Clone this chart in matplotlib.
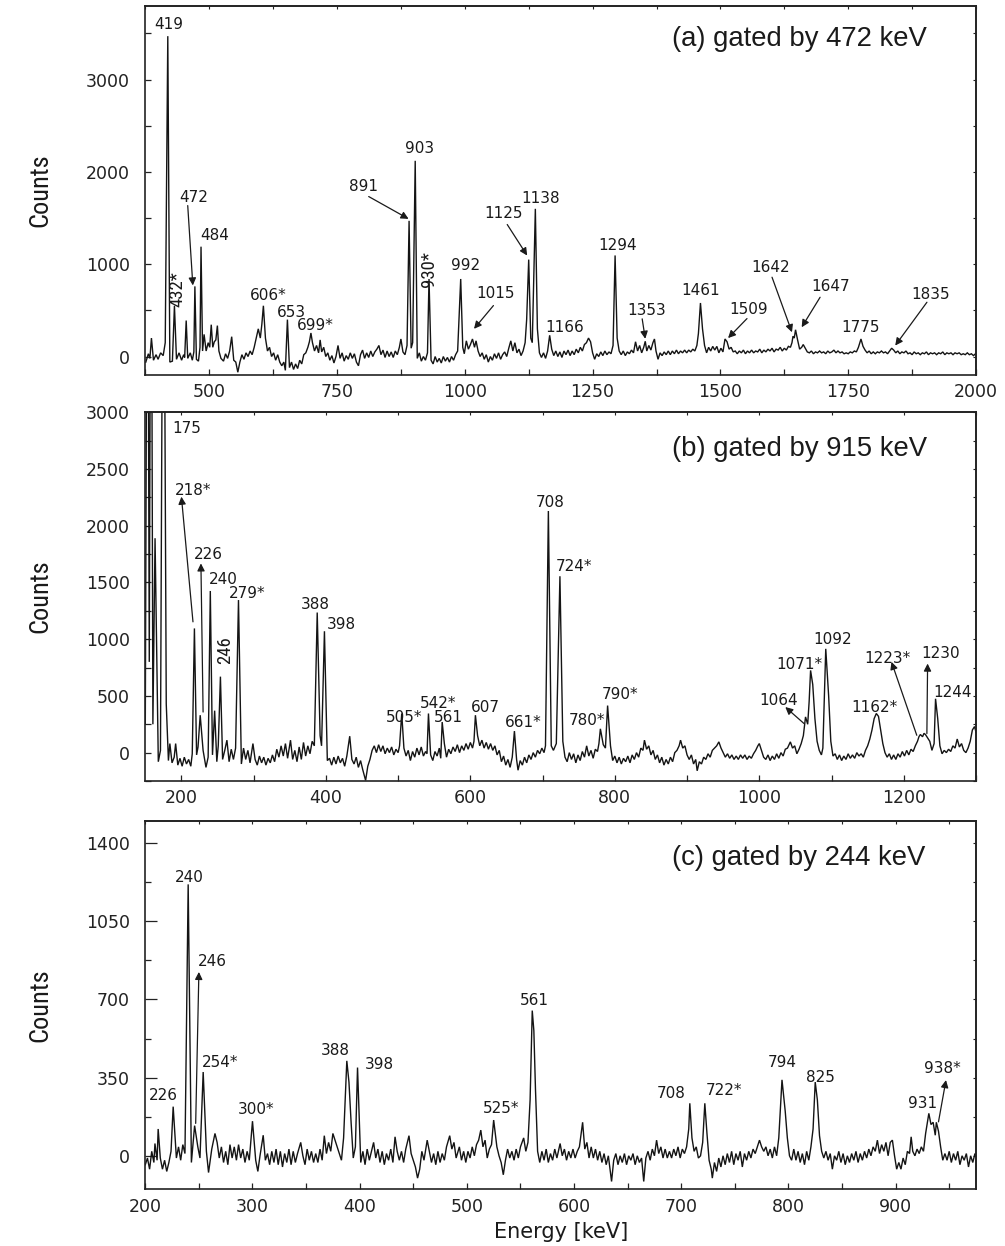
import numpy as np
import matplotlib
matplotlib.use("Agg")
import matplotlib.pyplot as plt
from matplotlib.ticker import MultipleLocator, NullFormatter

# ------------------------------------------------------------------
# Spectrum (a): coincidence spectrum gated by 472 keV
# ------------------------------------------------------------------
a_peak_energy = [387, 419, 432, 455, 472, 484, 504, 516, 544, 606, 653, 699, 717, 752,
                 875, 891, 903, 930, 992, 1015, 1125, 1138, 1166, 1242, 1294, 1353,
                 1461, 1509, 1642, 1647, 1662, 1775, 1835]
a_peak_counts = [200, 3470, 550, 390, 760, 1190, 345, 335, 215, 550, 400, 255, 180, 120,
                 190, 1470, 2120, 840, 840, 190, 1050, 1600, 230, 200, 1095, 165,
                 580, 190, 220, 290, 130, 190, 90]
a_background = [
    (376, -60), (381, 30), (384, -20), (391, -40), (396, 20), (400, -30), (405, 40), (410, 10),
    (414, 150), (423, -60), (428, -50), (436, -30), (441, 40), (446, -40), (450, 20), (452, -10),
    (458, -20), (463, 40), (467, -40), (470, 50), (475, -30), (479, -50), (482, 100), (487, 60),
    (490, 240), (494, 60), (498, 150), (501, 100), (507, 100), (510, 160), (513, 180), (519, 60),
    (523, -20), (528, -50), (532, 30), (536, -20), (540, 60), (548, -40), (552, -60), (556, -170),
    (560, -60), (564, 20), (568, -30), (572, 40), (576, 0), (580, 60), (584, 20), (588, 100),
    (592, 200), (596, 300), (600, 200), (603, 350), (610, 200), (614, 60), (618, 100), (622, 0),
    (626, 40), (630, -40), (634, 20), (638, -60), (642, -100), (646, -60), (649, -150), (657, -120),
    (661, -60), (665, -140), (669, -80), (673, -130), (677, -40), (681, -80), (685, 20), (689, 40),
    (693, 100), (696, 160), (702, 150), (706, 60), (710, 120), (714, 40), (720, 50), (724, 100),
    (728, 0), (732, 40), (736, -40), (740, 10), (744, -70), (748, 0), (756, -20), (760, 40),
    (764, -50), (768, 10), (772, -30), (776, 40), (780, -20), (784, 30), (788, -60), (792, -100),
    (796, 20), (800, 70), (804, -20), (808, 40), (812, -10), (816, 60), (820, 0), (824, 50),
    (828, 80), (832, 120), (836, 20), (840, 70), (844, -10), (848, 60), (852, 0), (856, 50),
    (860, -10), (864, 60), (868, 20), (872, 100), (879, 50), (883, 20), (887, 120), (895, 90),
    (898, 150), (907, -20), (911, 40), (915, -50), (919, 0), (923, -40), (927, 40), (934, -40),
    (938, -80), (942, 0), (946, -60), (950, -20), (954, -70), (958, 0), (962, -50), (966, -10),
    (970, -60), (974, 0), (978, -40), (982, 20), (986, 60), (996, 100), (999, 30), (1003, 170),
    (1007, 80), (1011, 130), (1019, 100), (1022, 170), (1026, 60), (1030, 0), (1034, 40), (1038, -30),
    (1042, 20), (1046, -60), (1050, 0), (1054, -40), (1058, 30), (1062, -20), (1066, 40), (1070, -30),
    (1074, 20), (1078, 50), (1082, 0), (1086, 90), (1090, 170), (1094, 60), (1098, 150), (1102, 40),
    (1106, 80), (1110, 10), (1114, 60), (1118, 150), (1121, 400), (1129, 200), (1132, 150), (1142, 300),
    (1146, 40), (1150, -10), (1154, 40), (1158, -20), (1162, 60), (1170, 80), (1174, 10), (1178, 60),
    (1182, 0), (1186, 50), (1190, -10), (1194, 60), (1198, 20), (1202, 70), (1206, 10), (1210, 60),
    (1214, 20), (1218, 80), (1222, 40), (1226, 100), (1230, 60), (1234, 130), (1238, 150), (1246, 160),
    (1250, 40), (1254, -30), (1258, 30), (1262, 0), (1266, 50), (1270, 10), (1274, 60), (1278, 20),
    (1282, 50), (1286, 30), (1290, 120), (1298, 200), (1302, 60), (1306, 20), (1310, 60), (1314, 10),
    (1318, 50), (1322, 30), (1326, 70), (1330, 40), (1334, 160), (1338, 60), (1342, 120), (1346, 40),
    (1350, 100), (1356, 60), (1360, 120), (1364, 70), (1368, 150), (1371, 190), (1374, 60), (1378, -30),
    (1382, 40), (1386, 10), (1390, 50), (1394, 20), (1398, 60), (1402, 20), (1406, 60), (1410, 30),
    (1414, 70), (1418, 30), (1422, 60), (1426, 40), (1430, 70), (1434, 40), (1438, 70), (1442, 50),
    (1446, 80), (1450, 60), (1454, 120), (1457, 250), (1465, 300), (1469, 120), (1473, 40), (1477, 100),
    (1481, 60), (1485, 110), (1489, 70), (1493, 110), (1497, 40), (1501, 90), (1505, 50), (1513, 160),
    (1517, 80), (1521, 100), (1525, 50), (1529, 60), (1533, 30), (1537, 60), (1541, 40), (1545, 70),
    (1549, 30), (1553, 60), (1557, 40), (1561, 70), (1565, 40), (1569, 60), (1573, 50), (1577, 80),
    (1581, 40), (1585, 70), (1589, 50), (1593, 80), (1597, 60), (1601, 90), (1605, 50), (1609, 80),
    (1613, 70), (1617, 100), (1621, 60), (1625, 90), (1629, 70), (1633, 110), (1637, 100), (1640, 150),
    (1644.5, 200), (1651, 180), (1655, 80), (1659, 100), (1666, 90), (1670, 50), (1674, 40), (1678, 60),
    (1682, 30), (1686, 50), (1690, 40), (1694, 60), (1698, 40), (1702, 50), (1706, 30), (1710, 60),
    (1714, 40), (1718, 50), (1722, 70), (1726, 40), (1730, 60), (1734, 40), (1738, 50), (1742, 30),
    (1746, 40), (1750, 30), (1754, 50), (1758, 40), (1762, 60), (1766, 50), (1770, 100), (1779, 110),
    (1783, 70), (1787, 40), (1791, 60), (1795, 30), (1799, 50), (1803, 30), (1807, 50), (1811, 40),
    (1815, 60), (1819, 40), (1823, 50), (1827, 30), (1831, 60), (1839, 70), (1843, 40), (1847, 60),
    (1851, 30), (1855, 50), (1859, 40), (1863, 60), (1867, 30), (1871, 40), (1875, 20), (1879, 50),
    (1883, 30), (1887, 40), (1891, 20), (1895, 40), (1899, 30), (1903, 50), (1907, 20), (1911, 40),
    (1915, 30), (1919, 40), (1923, 20), (1927, 40), (1931, 30), (1935, 50), (1939, 20), (1943, 40),
    (1947, 30), (1951, 40), (1955, 20), (1959, 40), (1963, 30), (1967, 40), (1971, 20), (1975, 30),
    (1979, 20), (1983, 40), (1987, 20), (1991, 30), (1995, 10), (1999, 30),
]
a_labels = ['419', '432*', '472', '484', '606*', '653', '699*', '891', '903', '930*', '992',
            '1015', '1125', '1138', '1166', '1294', '1353', '1461', '1509', '1642', '1647',
            '1775', '1835']

# ------------------------------------------------------------------
# Spectrum (b): gated by 915 keV
# ------------------------------------------------------------------
b_peak_energy = [153, 158, 163.5, 175, 179, 218, 226, 240, 246, 254, 279, 388, 398, 433,
                 505, 542, 561, 607, 661, 708, 724, 780, 790, 1064, 1071, 1092, 1162,
                 1223, 1230, 1244]
b_peak_counts = [6000, 6000, 1890, 6000, 430, 1095, 330, 1425, 370, 670, 1345, 1235, 1070, 145,
                 345, 345, 270, 330, 190, 2130, 1555, 210, 415, 315, 725, 915, 345,
                 160, 160, 475]
b_background = [
    (150, 250), (155.5, 800), (160.5, 250), (168, -80), (171, 20), (182, -70), (184, 80), (187, -90),
    (190, -40), (192, 80), (195, -110), (198, -50), (201, -120), (204, -40), (207, -100), (210, -60),
    (213, -120), (215, -10), (221, -20), (223, 50), (230, 20), (234, -130), (237, -40), (243, -20),
    (249, -80), (251, 60), (257, -60), (260, 20), (263, 110), (266, -80), (269, 30), (272, -60),
    (275, 40), (283, -100), (286, 40), (289, -60), (292, 20), (295, -90), (299, 80), (302, -60),
    (305, -110), (308, -30), (311, -90), (314, -40), (317, -110), (320, -50), (323, -90), (326, -20),
    (329, -80), (332, 30), (335, -40), (338, 60), (341, -30), (344, 80), (347, -50), (351, 110),
    (354, -60), (357, 20), (360, -80), (363, 50), (366, -60), (369, 90), (372, -30), (375, 60),
    (378, -10), (381, 100), (384, 60), (392, 150), (394, 60), (402, -70), (405, -50), (408, -110),
    (411, -40), (414, -100), (417, -30), (420, -90), (423, -50), (426, -120), (429, -30), (436, -60),
    (439, -100), (442, -40), (445, -130), (448, -70), (451, -150), (455, -245), (458, -120), (461, -60),
    (464, 20), (467, 60), (470, 0), (473, 70), (476, 10), (479, 60), (482, -10), (485, 40),
    (488, 0), (491, 50), (494, -20), (497, 30), (500, 0), (502, 60), (508, 40), (511, -30),
    (514, 20), (517, -70), (520, 10), (523, -40), (526, 40), (529, -20), (532, 50), (535, -30),
    (538, 10), (540, -10), (545, -20), (548, -70), (551, 10), (554, -30), (557, 40), (559, -50),
    (564, 80), (567, -40), (570, 30), (573, -10), (576, 50), (579, 10), (582, 70), (585, 0),
    (588, 60), (591, 20), (594, 80), (597, 30), (600, 90), (603, 40), (605, 100), (610, 150),
    (613, 60), (616, 110), (619, 40), (622, 90), (625, 30), (628, 80), (631, 20), (634, 60),
    (637, -20), (640, 20), (643, -80), (646, -30), (649, -110), (652, -60), (655, -130), (658, -40),
    (664, -60), (666, -155), (669, -70), (672, -110), (675, -40), (678, -90), (681, -20), (684, -60),
    (687, 0), (690, -40), (693, 20), (696, -10), (699, 40), (702, 0), (704, 60), (712, 60),
    (715, 20), (719, 80), (728, 100), (731, -40), (734, -80), (737, 0), (740, -60), (743, -10),
    (746, -90), (749, -20), (752, -70), (755, 10), (758, -40), (761, 60), (764, -30), (767, 20),
    (770, -50), (773, 30), (776, 10), (778, 80), (784, 70), (787, 40), (794, 60), (797, -70),
    (800, -30), (803, -90), (806, -40), (809, -100), (812, -50), (815, -80), (818, -30), (821, -90),
    (824, -20), (827, -60), (830, 0), (833, -40), (836, 40), (839, 20), (841, 110), (844, 30),
    (847, 60), (850, -20), (853, 20), (856, -60), (859, -20), (862, -90), (865, -40), (868, -110),
    (871, -60), (874, -100), (877, -40), (880, -80), (883, 0), (886, 20), (889, 60), (891, 110),
    (894, 40), (897, 60), (900, -20), (903, -60), (906, -20), (909, -100), (912, -60), (914, -160),
    (917, -80), (920, -100), (923, -40), (926, -60), (929, -10), (932, -40), (935, 20), (938, 40),
    (941, 60), (944, 95), (947, 40), (950, 0), (953, -40), (956, -10), (959, -50), (962, -20),
    (965, -60), (968, -30), (971, -60), (974, -20), (977, -50), (980, -20), (983, -60), (986, -30),
    (989, -50), (992, -10), (995, 20), (998, 60), (1000, 80), (1003, 20), (1006, -40), (1009, -60),
    (1012, -20), (1015, -70), (1018, -30), (1021, -60), (1024, -10), (1027, -50), (1030, 0), (1033, -30),
    (1036, 30), (1039, 40), (1043, 95), (1046, 40), (1049, 60), (1052, -10), (1055, 30), (1058, 80),
    (1061, 150), (1067, 250), (1069, 450), (1074, 600), (1077, 300), (1080, 100), (1083, 20), (1086, -20),
    (1088, 40), (1096, 500), (1099, 100), (1102, -30), (1105, -10), (1108, -60), (1111, -20), (1114, -70),
    (1117, -30), (1120, -60), (1123, -10), (1126, -50), (1129, -20), (1132, -50), (1135, 0), (1138, -30),
    (1141, -10), (1144, -40), (1147, 20), (1150, 60), (1153, 120), (1156, 200), (1159, 300), (1165, 320),
    (1168, 200), (1171, 80), (1174, 0), (1177, -40), (1180, -10), (1183, -60), (1186, -20), (1189, -60),
    (1192, -10), (1195, -40), (1198, 10), (1201, -30), (1204, 20), (1207, -20), (1210, 30), (1213, 10),
    (1216, 60), (1219, 100), (1221, 140), (1226, 140), (1228, 170), (1233, 130), (1236, 100), (1239, 20),
    (1242, 80), (1247, 300), (1250, 60), (1253, -10), (1256, 20), (1259, 0), (1262, 30), (1265, 10),
    (1268, 60), (1271, 40), (1274, 120), (1277, 50), (1280, 80), (1283, 20), (1286, 0), (1289, 40),
    (1292, 100), (1295, 200), (1298, 230), (1300, 180),
]
b_labels = ['175', '218*', '226', '240', '246', '279*', '388', '398', '505*', '542*', '561',
            '607', '661*', '708', '724*', '780*', '790*', '1064', '1071*', '1092', '1162*',
            '1223*', '1230', '1244']

# ------------------------------------------------------------------
# Spectrum (c): gated by 244 keV
# ------------------------------------------------------------------
c_peak_energy = [212, 226, 240, 246, 254, 300, 388, 398, 525, 561, 608, 708, 722, 794, 825,
                 931, 938]
c_peak_counts = [120, 220, 1215, 135, 375, 155, 425, 395, 160, 650, 150, 235, 235, 340, 330,
                 190, 150]
c_background = [
    (200, -40), (202, -10), (204, -60), (206, 20), (208, -30), (209, 55), (211, -20), (214, -10),
    (216, -60), (218, -20), (220, -70), (222, -30), (224, 20), (229, -10), (231, 40), (233, -20),
    (235, 50), (237, 10), (243, -30), (249, 40), (251, -10), (257, 20), (259, -75), (262, 30),
    (265, 100), (267, 60), (269, -10), (271, 40), (273, -30), (275, 20), (277, -40), (279, 50),
    (281, -10), (283, 40), (285, -20), (287, 50), (289, -10), (291, 30), (293, -30), (295, 20),
    (297, -20), (303, -20), (305, -70), (307, 0), (310, 92), (312, -20), (314, 10), (316, -40),
    (318, 20), (320, -30), (322, 30), (324, -40), (326, 20), (328, -50), (330, 10), (332, -30),
    (334, 30), (336, -40), (338, 20), (340, -30), (342, 10), (345, 60), (347, 0), (349, -40),
    (351, 30), (353, -20), (355, 20), (357, -30), (359, 10), (361, -30), (363, 30), (365, -20),
    (367, 90), (369, 10), (371, 60), (373, 20), (375, 100), (377, 70), (379, 40), (381, 10),
    (383, -20), (385, 80), (390, 330), (392, 150), (394, -10), (396, 40), (401, -30), (403, 20),
    (405, -40), (407, 30), (409, -20), (411, 20), (413, 60), (415, -10), (417, 30), (419, -30),
    (421, 20), (423, -40), (425, 10), (427, -20), (429, 30), (431, -30), (433, 85), (435, 20),
    (437, -20), (439, 20), (441, -30), (443, 30), (446, 90), (448, 10), (450, -20), (452, -50),
    (454, -100), (456, -60), (458, 20), (460, -20), (463, 70), (465, 20), (467, -30), (469, 10),
    (471, -40), (473, 20), (475, -30), (477, 10), (479, -20), (481, 40), (484, 90), (486, 30),
    (488, 60), (490, -10), (493, 40), (495, -20), (497, 20), (499, -30), (501, 20), (503, -10),
    (505, 40), (507, 0), (509, 50), (511, 70), (513, 115), (515, 40), (517, 70), (519, -10),
    (521, 30), (523, 50), (528, 40), (530, 0), (532, -30), (534, -85), (536, -20), (538, 30),
    (540, -10), (542, 20), (544, -20), (546, 30), (548, -10), (550, 40), (553, 80), (555, 20),
    (557, 60), (559, 250), (562.5, 560), (564, 300), (566, 20), (568, -30), (570, 20), (572, -20),
    (574, 30), (576, -30), (578, 10), (580, -20), (582, 30), (584, -10), (587, 55), (589, 0),
    (591, 30), (593, -20), (595, 20), (597, -10), (599, 30), (601, -10), (603, 20), (605, 40),
    (610, 30), (612, 60), (614, -10), (616, 40), (618, -10), (620, 30), (622, -20), (624, 20),
    (626, -30), (628, 10), (630, -40), (632, 0), (635, -115), (637, -20), (639, 10), (641, -40),
    (643, 0), (645, -30), (647, 10), (649, -40), (651, 0), (653, -20), (655, 10), (657, -40),
    (659, 0), (661, -30), (663, -10), (665, -115), (667, -10), (669, 20), (671, -20), (673, 30),
    (675, 0), (677, 70), (679, 10), (681, 40), (683, -10), (685, 30), (687, -10), (689, 20),
    (691, -10), (693, 30), (695, 0), (697, 40), (699, -10), (701, 30), (703, 10), (705, 40),
    (707, 120), (710, 80), (712, 20), (714, 40), (716, -10), (718, 0), (720, 60), (724, 100),
    (726, -20), (728, -60), (729, -100), (731, -30), (733, -70), (735, -10), (737, -50), (739, 0),
    (741, -40), (743, 10), (745, -30), (747, 20), (749, -40), (751, 10), (753, -20), (755, 20),
    (757, -50), (759, 10), (761, -20), (763, 20), (765, -10), (767, 30), (769, 10), (771, 40),
    (773, 70), (775, 40), (777, 20), (779, 40), (781, 0), (783, 30), (785, -10), (787, 40),
    (789, 0), (791, 80), (797, 200), (799, 80), (801, 0), (803, -20), (805, 30), (807, -20),
    (809, 20), (811, -30), (813, 10), (815, -40), (817, 20), (819, -20), (821, 40), (823, 120),
    (827, 250), (829, 90), (831, 20), (833, -10), (835, 20), (837, -20), (839, 10), (841, -60),
    (843, 0), (845, -20), (847, 20), (849, -30), (851, 10), (853, -40), (855, 0), (857, -30),
    (859, 10), (861, -20), (863, 20), (865, -30), (867, 10), (869, -20), (871, 20), (873, -10),
    (875, 30), (877, 0), (879, 40), (881, 20), (883, 70), (885, 10), (887, 50), (889, 20),
    (891, 60), (893, 0), (895, 60), (897, 70), (899, 0), (901, -60), (903, -30), (905, -60),
    (907, -10), (909, -40), (911, 20), (913, 10), (914.5, 85), (916, 20), (918, 0), (920, 30),
    (922, 10), (924, 40), (926, 20), (928, 100), (933, 140), (935, 150), (937, 92), (940, 110),
    (942, 40), (944, -20), (946, 10), (948, -20), (950, 20), (952, -30), (954, 10), (956, -20),
    (958, 20), (960, -40), (962, 0), (964, -20), (966, 10), (968, -50), (970, 0), (972, -30),
    (974, 10), (976, -10),
]
c_labels = ['226', '240', '246', '254*', '300*', '388', '398', '525*', '561', '708', '722*',
            '794', '825', '931', '938*']

gate_titles = ['(a) gated by 472 keV', '(b) gated by 915 keV', '(c) gated by 244 keV']
y_title = 'Counts'
x_title = 'Energy [keV]'

# ------------------------------------------------------------------
# Layout: label anchors (energy, counts, rotation) and arrows (tail, head)
# ------------------------------------------------------------------
a_label_pos = {
    '419': (420, 3600, 0), '432*': (437, 733, 90), '472': (470, 1725, 0), '484': (510, 1310, 0),
    '606*': (616, 660, 0), '653': (661, 480, 0), '699*': (707, 336, 0), '891': (801, 1845, 0),
    '903': (911, 2248, 0), '930*': (929, 950, 90), '992': (1002, 985, 0), '1015': (1061, 679, 0),
    '1125': (1076, 1545, 0), '1138': (1149, 1708, 0), '1166': (1195, 318, 0), '1294': (1298, 1202, 0),
    '1353': (1356, 498, 0), '1461': (1461, 715, 0), '1509': (1556, 509, 0), '1642': (1598, 967, 0),
    '1647': (1716, 760, 0), '1775': (1774, 310, 0), '1835': (1911, 670, 0),
}
a_arrows = {
    '472': ((458, 1635), (468, 770)), '891': ((812, 1733), (890, 1491)),
    '1015': ((1056, 552), (1018, 300)), '1125': ((1083, 1430), (1122, 1094)),
    '1353': ((1347, 408), (1353, 192)), '1509': ((1552, 411), (1515, 200)),
    '1642': ((1601, 859), (1640, 263)), '1647': ((1695, 642), (1659, 317)),
    '1835': ((1904, 588), (1842, 119)),
}
b_label_pos = {
    '175': (207, 2860, 0), '218*': (216, 2315, 0), '226': (238, 1750, 0), '240': (258, 1530, 0),
    '246': (261, 903, 90), '279*': (291, 1406, 0), '388': (385, 1309, 0), '398': (422, 1132, 0),
    '505*': (509, 314, 0), '542*': (555, 432, 0), '561': (570, 314, 0), '607': (621, 402, 0),
    '661*': (673, 270, 0), '708': (711, 2206, 0), '724*': (743, 1638, 0), '780*': (761, 279, 0),
    '790*': (807, 515, 0), '1064': (1027, 462, 0), '1071*': (1055, 779, 0), '1092': (1101, 1000, 0),
    '1162*': (1160, 402, 0), '1223*': (1178, 830, 0), '1230': (1251, 874, 0), '1244': (1268, 530, 0),
}
b_arrows = {
    '218*': ((216, 1153), (200, 2256)), '226': ((230, 358), (227, 1668)),
    '1064': ((1062, 256), (1036, 402)), '1223*': ((1218, 153), (1183, 800)),
    '1230': ((1232, 168), (1233, 785)),
}
c_label_pos = {
    '226': (217, 270, 0), '240': (241, 1246, 0), '246': (263, 870, 0), '254*': (270, 419, 0),
    '300*': (303, 206, 0), '388': (377, 470, 0), '398': (418, 407, 0), '525*': (532, 210, 0),
    '561': (563, 695, 0), '708': (691, 278, 0), '722*': (740, 291, 0), '794': (794, 419, 0),
    '825': (830, 352, 0), '931': (925, 233, 0), '938*': (944, 389, 0),
}
c_arrows = {
    '246': ((247, 145), (250, 823)), '938*': ((940, 152), (947, 339)),
}

# ------------------------------------------------------------------
# Drawing
# ------------------------------------------------------------------
NARROW = ['Liberation Sans Narrow', 'Roboto Condensed', 'Open Sans Condensed', 'Liberation Sans']
FIG_W, FIG_H = 1005, 1246
PX = 0.72  # points per pixel at 100 dpi
fig = plt.figure(figsize=(FIG_W / 100, FIG_H / 100), dpi=100)

LINE = '#141414'
INK = '#1a1a1a'


def trace(background, energies, counts):
    pts = sorted(list(background) + list(zip(energies, counts)), key=lambda p: p[0])
    e, c = zip(*pts)
    return np.asarray(e, float), np.asarray(c, float)


def box(top_px, bottom_px, left_px=145.3, right_px=976.0):
    return [left_px / FIG_W, 1 - bottom_px / FIG_H,
            (right_px - left_px) / FIG_W, (bottom_px - top_px) / FIG_H]


panels = [
    dict(rect=box(5.7, 375.0), bg=a_background, pe=a_peak_energy, pc=a_peak_counts,
         labels=a_labels, pos=a_label_pos, arrows=a_arrows,
         xlim=(375, 2000), ylim=(-200, 3800), xmaj=250, xmin=125, ymaj=1000, ymin=500,
         ymaj_len=6, title=gate_titles[0], title_y=0.91),
    dict(rect=box(412.3, 781.0), bg=b_background, pe=b_peak_energy, pc=b_peak_counts,
         labels=b_labels, pos=b_label_pos, arrows=b_arrows,
         xlim=(150, 1300), ylim=(-250, 3000), xmaj=200, xmin=100, ymaj=500, ymin=250,
         ymaj_len=6, title=gate_titles[1], title_y=0.90),
    dict(rect=box(820.7, 1189.3), bg=c_background, pe=c_peak_energy, pc=c_peak_counts,
         labels=c_labels, pos=c_label_pos, arrows=c_arrows,
         xlim=(200, 975), ylim=(-150, 1500), xmaj=100, xmin=50, ymaj=350, ymin=175,
         ymaj_len=12, title=gate_titles[2], title_y=0.90),
]

for p in panels:
    ax = fig.add_axes(p['rect'])
    e, c = trace(p['bg'], p['pe'], p['pc'])
    ax.plot(e, c, color=LINE, lw=1.0, solid_joinstyle='miter')
    ax.set_xlim(*p['xlim'])
    ax.set_ylim(*p['ylim'])
    ax.xaxis.set_major_locator(MultipleLocator(p['xmaj']))
    ax.xaxis.set_minor_locator(MultipleLocator(p['xmin']))
    ax.yaxis.set_major_locator(MultipleLocator(p['ymaj']))
    ax.yaxis.set_minor_locator(MultipleLocator(p['ymin']))
    ax.tick_params(which='both', direction='in', width=0.9, color='#222222',
                   labelcolor='#222222', labelsize=12.5)
    ax.tick_params(axis='x', which='both', length=6 * PX, pad=6)
    ax.tick_params(axis='y', which='major', length=p['ymaj_len'] * PX, pad=11)
    ax.tick_params(axis='y', which='minor', length=6 * PX)
    for s in ax.spines.values():
        s.set_linewidth(1.2)
        s.set_color('#222222')

    # short inward ticks along the top and right frame
    top = ax.secondary_xaxis('top')
    top.xaxis.set_major_locator(MultipleLocator(p['xmaj']))
    top.xaxis.set_minor_locator(MultipleLocator(p['xmin']))
    top.xaxis.set_major_formatter(NullFormatter())
    top.tick_params(which='both', direction='in', length=2.5, width=0.8, color='#222222')
    right = ax.secondary_yaxis('right')
    right.yaxis.set_major_locator(MultipleLocator(p['ymaj']))
    right.yaxis.set_minor_locator(MultipleLocator(p['ymin']))
    right.yaxis.set_major_formatter(NullFormatter())
    right.tick_params(which='both', direction='in', length=2.5, width=0.8, color='#222222')
    for sec in (top, right):
        for s in sec.spines.values():
            s.set_linewidth(1.2)
            s.set_color('#222222')

    for name in p['labels']:
        x, y, rot = p['pos'][name]
        if rot:
            ax.text(x, y, name, rotation=rot, ha='center', va='center',
                    fontsize=13.5, family=NARROW, color=INK)
        else:
            ax.text(x, y, name, ha='center', va='center', fontsize=11,
                    family='DejaVu Sans', color=INK)
    for name, (tail, head) in p['arrows'].items():
        ax.annotate('', xy=head, xytext=tail,
                    arrowprops=dict(arrowstyle='-|>', color=INK, lw=0.9,
                                    mutation_scale=11, shrinkA=0, shrinkB=0))

    ax.text(0.634, p['title_y'], p['title'], transform=ax.transAxes, ha='left',
            va='center', fontsize=19.8, family='Liberation Sans', color=INK)

    l, b, w, h = p['rect']
    fig.text(40 / FIG_W, b + h / 2, y_title, rotation=90, ha='center', va='center',
             fontsize=19, family=NARROW, color=INK)

fig.text(561 / FIG_W, 1 - 1232 / FIG_H, x_title, ha='center', va='center',
         fontsize=15, family='DejaVu Sans', color=INK)

fig.savefig('out.png', dpi=100)
